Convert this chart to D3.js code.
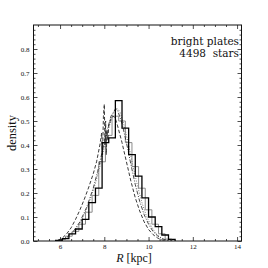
<!DOCTYPE html>
<html><head><meta charset="utf-8">
<script src="https://cdn.jsdelivr.net/npm/d3@7"></script>
<style>
html,body{margin:0;padding:0;background:#fff;}
svg{display:block;}
text{fill:#111;}
</style></head>
<body>
<script>
// ---- data ----
const histEdges = [5.8,6.1,6.4,6.7,7.0,7.3,7.6,7.9,8.2,8.5,8.8,9.1,9.4,9.7,10.0,10.3,10.6,10.9,11.2];
const histValues = [0.003,0.01,0.03,0.05,0.09,0.16,0.22,0.41,0.43,0.585,0.47,0.36,0.27,0.18,0.10,0.06,0.025,0.007];
const grayEdges = [5.95,6.25,6.55,6.85,7.15,7.45,7.75,8.05,8.35,8.65,8.95,9.25,9.55,9.85,10.15,10.45,10.75,11.05];
const grayValues = [0.006,0.02,0.04,0.07,0.12,0.19,0.33,0.44,0.52,0.5,0.41,0.31,0.22,0.13,0.07,0.03,0.008];
const dashedR = [5.9,6.1,6.3,6.5,6.7,6.9,7.1,7.3,7.5,7.65,7.8,7.88,7.92,7.96,8.0,8.03,8.06,8.09,8.12,8.16,8.2,8.3,8.4,8.5,8.6,8.8,9.0,9.2,9.4,9.6,9.8,10.0,10.2,10.4,10.6,10.8];
const dashedD = [0.003,0.012,0.03,0.055,0.09,0.13,0.175,0.225,0.28,0.33,0.4,0.45,0.36,0.52,0.57,0.40,0.50,0.36,0.46,0.42,0.48,0.51,0.52,0.51,0.48,0.41,0.33,0.25,0.18,0.125,0.08,0.048,0.027,0.013,0.005,0.001];
const dashdotR = [6.0,6.3,6.6,6.9,7.2,7.5,7.7,7.9,8.1,8.3,8.5,8.6,8.8,9.0,9.2,9.4,9.6,9.8,10.0,10.2,10.4,10.6,10.8,11.0];
const dashdotD = [0.003,0.015,0.04,0.08,0.14,0.22,0.29,0.37,0.45,0.52,0.55,0.545,0.49,0.41,0.32,0.235,0.165,0.11,0.07,0.04,0.022,0.01,0.004,0.001];
const dottedR = [6.1,6.4,6.7,7.0,7.3,7.6,7.8,8.0,8.2,8.4,8.55,8.7,8.9,9.1,9.3,9.5,9.7,9.9,10.1,10.3,10.5,10.7,10.9];
const dottedD = [0.004,0.018,0.045,0.09,0.155,0.24,0.31,0.39,0.47,0.53,0.555,0.54,0.48,0.4,0.31,0.23,0.16,0.105,0.065,0.035,0.017,0.007,0.002];
const xTicks = [6,8,10,12,14];
const yTicks = [0.0,0.1,0.2,0.3,0.4,0.5,0.6,0.7,0.8];
const labelLines = ["bright plates","4498\u00a0\u00a0stars"];

const W=268,H=268;
const L=33.5,R=241.5,T=25,B=241;
const x=d3.scaleLinear().domain([4.8,14.2]).range([L,R]);
const y=d3.scaleLinear().domain([0,0.9]).range([B,T]);
const SERIF="'Liberation Serif','Times New Roman',serif";

const svg=d3.select("body").append("svg").attr("width",W).attr("height",H);
const g=svg.append("g");

svg.append("clipPath").attr("id","clip").append("rect").attr("x",L).attr("y",T).attr("width",R-L).attr("height",B-T);
const plot=g.append("g").attr("clip-path","url(#clip)");

function stepPath(edges,vals){
  const pts=[[edges[0],0]];
  vals.forEach((v,i)=>{pts.push([edges[i],v]);pts.push([edges[i+1],v]);});
  pts.push([edges[edges.length-1],0]);
  return d3.line().x(d=>x(d[0])).y(d=>y(d[1]))(pts);
}
function curve(rs,ds){
  return d3.line().x((d,i)=>x(rs[i])).y((d,i)=>y(ds[i]))(rs);
}
plot.append("path").attr("d",stepPath(grayEdges,grayValues)).attr("fill","none").attr("stroke","#8a8a8a").attr("stroke-width",1);
plot.append("path").attr("d",curve(dottedR,dottedD)).attr("fill","none").attr("stroke","#777").attr("stroke-width",1).attr("stroke-dasharray","1,1.5");
plot.append("path").attr("d",curve(dashdotR,dashdotD)).attr("fill","none").attr("stroke","#333").attr("stroke-width",0.9).attr("stroke-dasharray","4,1.5,1,1.5");
plot.append("path").attr("d",curve(dashedR,dashedD)).attr("fill","none").attr("stroke","#222").attr("stroke-width",0.9).attr("stroke-dasharray","3.5,2");
plot.append("path").attr("d",stepPath(histEdges,histValues)).attr("fill","none").attr("stroke","#000").attr("stroke-width",1.3);

const xAxisB=d3.axisBottom(x).tickValues(xTicks).tickSize(-4).tickPadding(3).tickFormat(d3.format("d"));
const xAxisT=d3.axisTop(x).tickValues(xTicks).tickSize(-4).tickFormat("");
const yAxisL=d3.axisLeft(y).tickValues(yTicks).tickSize(-4).tickPadding(4).tickFormat(d3.format(".1f"));
const yAxisR=d3.axisRight(y).tickValues(yTicks).tickSize(-4).tickFormat("");
const xMinor=d3.range(5,14.01,0.5).filter(v=>!xTicks.includes(v));
const yMinor=d3.range(0,0.9001,0.02).map(v=>+v.toFixed(2)).filter(v=>Math.abs(v*10-Math.round(v*10))>1e-6);
const xmB=d3.axisBottom(x).tickValues(xMinor).tickSize(-2).tickFormat("");
const xmT=d3.axisTop(x).tickValues(xMinor).tickSize(-2).tickFormat("");
const ymL=d3.axisLeft(y).tickValues(yMinor).tickSize(-2).tickFormat("");
const ymR=d3.axisRight(y).tickValues(yMinor).tickSize(-2).tickFormat("");

function addAxis(ax,tx,ty){
  const a=g.append("g").attr("transform",`translate(${tx},${ty})`).call(ax);
  a.select(".domain").remove();
  a.selectAll("line").attr("stroke","#222").attr("stroke-width",0.8);
  a.selectAll("text").style("font-family",SERIF).attr("font-size",7).attr("fill","#222");
  return a;
}
addAxis(xAxisB,0,B);addAxis(xAxisT,0,T);addAxis(yAxisL,L,0);addAxis(yAxisR,R,0);
addAxis(xmB,0,B);addAxis(xmT,0,T);addAxis(ymL,L,0);addAxis(ymR,R,0);

g.append("rect").attr("x",L).attr("y",T).attr("width",R-L).attr("height",B-T).attr("fill","none").attr("stroke","#111").attr("stroke-width",1);

labelLines.forEach((s,i)=>{
  g.append("text").attr("x",239).attr("y",44.5+i*12.9).attr("text-anchor","end")
    .style("font-family","'DejaVu Serif',serif").attr("font-size",10.5).text(s);
});

g.append("text").attr("transform",`translate(16,133) rotate(-90)`).attr("text-anchor","middle")
  .style("font-family",SERIF).attr("font-size",12.5).text("density");
const xl=g.append("text").attr("x",134).attr("y",262).attr("text-anchor","middle")
  .style("font-family",SERIF).attr("font-size",12);
xl.append("tspan").attr("font-style","italic").text("R");
xl.append("tspan").text(" [kpc]");
</script>
</body></html>
